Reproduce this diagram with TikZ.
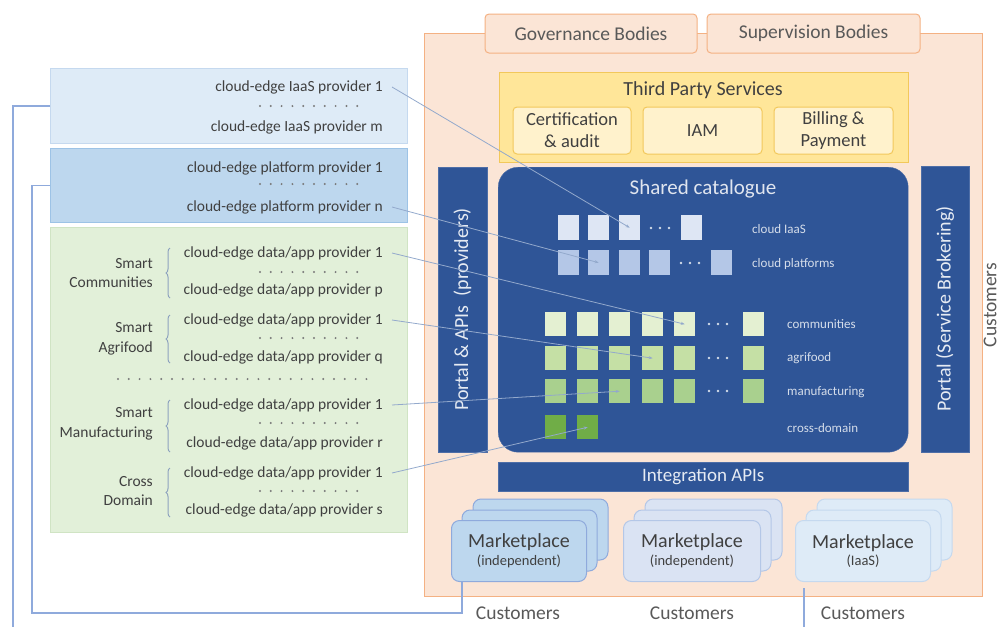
\documentclass[tikz,border=0pt]{standalone}
\usepackage{fontspec}
\setmainfont{Carlito}
\usetikzlibrary{arrows.meta,decorations.pathreplacing}

\definecolor{orgfill}{HTML}{FBE5D6}
\definecolor{orgline}{HTML}{F4B183}
\definecolor{yelfill}{HTML}{FFE699}
\definecolor{yelline}{HTML}{F2C85B}
\definecolor{palefill}{HTML}{FFF2CC}
\definecolor{darkblue}{HTML}{2F5597}
\definecolor{iaasfill}{HTML}{DEEBF7}
\definecolor{iaasline}{HTML}{C5D9EF}
\definecolor{platfill}{HTML}{BDD7EE}
\definecolor{platline}{HTML}{9DC3E6}
\definecolor{grnfill}{HTML}{E2F0D9}
\definecolor{grnline}{HTML}{D0E4C4}
\definecolor{txtdark}{HTML}{404040}
\definecolor{txtmid}{HTML}{595959}
\definecolor{linkblue}{HTML}{8FAADC}
\definecolor{thinline}{HTML}{93A9CC}
\definecolor{bracec}{HTML}{8EA3BF}
\definecolor{sqiaas}{HTML}{DEE6F4}
\definecolor{sqplat}{HTML}{B4C7E7}
\definecolor{sqcomm}{HTML}{E4F0D2}
\definecolor{sqagri}{HTML}{C5E0A5}
\definecolor{sqmanu}{HTML}{A9D08E}
\definecolor{sqcross}{HTML}{70AD47}
\definecolor{mkafill}{HTML}{BDD7EE}
\definecolor{mkaline}{HTML}{8FAADC}
\definecolor{mkbfill}{HTML}{DAE3F3}
\definecolor{mkbline}{HTML}{B4C7E7}
\definecolor{mkcfill}{HTML}{DEEBF7}
\definecolor{mkcline}{HTML}{C5D9EF}

\begin{document}
\begin{tikzpicture}[x=1pt, y=-1pt,
gov/.style={draw=orgline, fill=orgfill, line width=1pt, rounded corners=4, minimum height=39, inner sep=0, text=txtmid, font=\fontsize{19.5}{22}\selectfont},
tpsbox/.style={draw=yelline, fill=palefill, line width=1pt, rounded corners=4, minimum height=47, inner sep=0, align=center, text=txtdark, font=\fontsize{18.5}{22}\selectfont},
bar/.style={draw=darkblue!85!white, fill=darkblue, inner sep=0, text=white!88!darkblue, font=\fontsize{20}{22}\selectfont},
sq/.style={minimum width=21, minimum height=25, inner sep=0, anchor=north west},
catlab/.style={text=white!80!darkblue, font=\fontsize{13}{15}\selectfont, anchor=west, inner sep=0},
lbox/.style={line width=1pt, minimum width=357, anchor=north west, inner sep=0},
ptext/.style={anchor=east, inner sep=0, text=txtdark, font=\fontsize{15.5}{18}\selectfont},
grp/.style={anchor=east, inner sep=0, align=right, text=txtdark, font=\fontsize{15.5}{19.5}\selectfont},
dotrow/.style={draw=txtdark!70, line width=2.2pt, line cap=round, dash pattern=on 0pt off 10.8pt},
brk/.style={draw=bracec, line width=1pt, decorate, decoration={brace, amplitude=4pt}},
mkt/.style={rounded corners=8, line width=1pt, minimum width=135, minimum height=61, inner sep=0, align=center, text=txtdark},
cust/.style={text=txtmid, font=\fontsize{19.5}{22}\selectfont, inner sep=0},
link/.style={draw=linkblue, line width=1.8pt},
feed/.style={draw=thinline, line width=0.8pt, -{Stealth[length=4pt, width=3pt]}},
]
\useasboundingbox (0,0) rectangle (1002,627);

\node[draw=orgline, fill=orgfill, line width=1pt, minimum width=558, minimum height=563, anchor=north west, inner sep=0] (plat) at (424,33) {};
\node[gov, minimum width=212] (gov) at (591,33.5) {Governance Bodies};
\node[gov, minimum width=213] (sup) at (813.5,33.5) {Supervision Bodies};

\node[draw=yelline, fill=yelfill, line width=1pt, minimum width=409, minimum height=90, anchor=north west, inner sep=0] (tps) at (499,72) {};
\node[text=txtdark, font=\fontsize{20}{22}\selectfont] (tpt) at (703,90) {Third Party Services};
\node[tpsbox, minimum width=118] (cert) at (572,130.5) {Certification\\\& audit};
\node[tpsbox, minimum width=119] (iam) at (702.5,130.5) {IAM};
\node[tpsbox, minimum width=119] (bill) at (833.5,130.5) {Billing \&\\Payment};

\node[bar, minimum width=285, minimum height=49, rotate=90] (pap) at (462.5,309.5) {Portal \& APIs\ \ (providers)};
\node[bar, minimum width=286, minimum height=48, rotate=90] (psb) at (945,309) {Portal (Service Brokering)};
\node[bar, rounded corners=20, minimum width=410, minimum height=285, anchor=north west] (cat) at (498,167) {};
\node[text=white!85!darkblue, font=\fontsize{21}{24}\selectfont] (sct) at (703,189) {Shared catalogue};
\node[bar, minimum width=410, minimum height=29, anchor=north west, font=\fontsize{19}{22}\selectfont] (iapi) at (498,462) {Integration APIs};

\foreach \x [count=\i] in {558,588,619,681}
  \node[sq, fill=sqiaas] (ia\i) at (\x,215) {};
\foreach \x [count=\i] in {558,588,619,649,711}
  \node[sq, fill=sqplat] (pl\i) at (\x,250) {};
\foreach \x [count=\i] in {545,577,609,642,674,743}
  \node[sq, fill=sqcomm, minimum height=24] (co\i) at (\x,312) {};
\foreach \x [count=\i] in {545,577,609,642,674,743}
  \node[sq, fill=sqagri, minimum height=24] (ag\i) at (\x,346) {};
\foreach \x [count=\i] in {545,577,609,642,674,743}
  \node[sq, fill=sqmanu, minimum height=24] (ma\i) at (\x,379) {};
\foreach \x [count=\i] in {545,577}
  \node[sq, fill=sqcross, minimum height=24] (cd\i) at (\x,415) {};
\foreach \x in {651,660,669}
  \fill[white!80!darkblue] (\x,228) circle[radius=1.4pt];
\foreach \x in {681,690,699}
  \fill[white!80!darkblue] (\x,263) circle[radius=1.4pt];
\foreach \y in {324,358,391}
  \foreach \x in {709,718,727}
    \fill[white!80!darkblue] (\x,\y) circle[radius=1.4pt];

\node[catlab] (lia) at (752,229) {cloud IaaS};
\node[catlab] (lpl) at (752,264) {cloud platforms};
\node[catlab] (lco) at (787,324) {communities};
\node[catlab] (lag) at (787,358) {agrifood};
\node[catlab] (lma) at (787,392) {manufacturing};
\node[catlab] (lcd) at (787,428) {cross-domain};

\draw[draw=mkaline, fill=mkafill, rounded corners=8, line width=1pt] (473,499) rectangle (608,560);
\draw[draw=mkaline, fill=mkafill, rounded corners=8, line width=1pt] (462,510) rectangle (597,571);
\node[mkt, fill=mkafill, draw=mkaline, anchor=north west] (m1) at (451,520) {\fontsize{20}{22}\selectfont Marketplace\\[3pt]\fontsize{14.5}{18}\selectfont (independent)};
\draw[draw=mkbline, fill=mkbfill, rounded corners=8, line width=1pt] (645,499) rectangle (782,560);
\draw[draw=mkbline, fill=mkbfill, rounded corners=8, line width=1pt] (634,510) rectangle (771,571);
\node[mkt, fill=mkbfill, draw=mkbline, minimum width=137, anchor=north west] (m2) at (623,520) {\fontsize{20}{22}\selectfont Marketplace\\[3pt]\fontsize{14.5}{18}\selectfont (independent)};
\draw[draw=mkcline, fill=mkcfill, rounded corners=8, line width=1pt] (817,499) rectangle (952,560);
\draw[draw=mkcline, fill=mkcfill, rounded corners=8, line width=1pt] (806,510) rectangle (941,571);
\node[mkt, fill=mkcfill, draw=mkcline, anchor=north west] (m3) at (795,520) {\fontsize{20}{22}\selectfont Marketplace\\[3pt]\fontsize{14.5}{18}\selectfont (IaaS)};

\node[cust] (c1) at (518,613) {Customers};
\node[cust] (c2) at (692,613) {Customers};
\node[cust] (c3) at (863,613) {Customers};
\node[cust, rotate=90] (c4) at (990,305) {Customers};

\node[lbox, draw=iaasline, fill=iaasfill, minimum height=75] (iaas) at (50,68) {};
\node[lbox, draw=platline, fill=platfill, minimum height=74] (pfm) at (50,148) {};
\node[lbox, draw=grnline, fill=grnfill, minimum height=305] (grn) at (50,227) {};

\node[ptext] (ip1) at (383,87) {cloud-edge IaaS provider 1};
\node[ptext] (ipm) at (383,127) {cloud-edge IaaS provider m};
\node[ptext] (pp1) at (383,168) {cloud-edge platform provider 1};
\node[ptext] (ppn) at (383,207) {cloud-edge platform provider n};
\node[ptext] (cp1) at (383,253) {cloud-edge data/app provider 1};
\node[ptext] (cpp) at (383,290) {cloud-edge data/app provider p};
\node[ptext] (ap1) at (383,320) {cloud-edge data/app provider 1};
\node[ptext] (apq) at (383,357) {cloud-edge data/app provider q};
\node[ptext] (mp1) at (383,405) {cloud-edge data/app provider 1};
\node[ptext] (mpr) at (383,443) {cloud-edge data/app provider r};
\node[ptext] (dp1) at (383,473) {cloud-edge data/app provider 1};
\node[ptext] (dps) at (383,510) {cloud-edge data/app provider s};

\foreach \y in {106,184,272,338,423,491}
  \draw[dotrow] (260,\y) -- (358,\y);
\draw[dotrow] (118,379) -- (369,379);

\node[grp] (sc) at (153,273) {Smart\\Communities};
\node[grp] (sa) at (153,339) {Smart\\Agrifood};
\node[grp] (sm) at (153,424) {Smart\\Manufacturing};
\node[grp] (xd) at (153,491) {Cross\\Domain};
\draw[brk] (170,298) -- (170,248);
\draw[brk] (170,363) -- (170,315);
\draw[brk] (170,452) -- (170,400);
\draw[brk] (170,517) -- (170,468);

\coordinate (e1) at (13,627);
\coordinate (e2) at (32,613);
\coordinate (e3) at (804,627);
\draw[link] (iaas.west) -| (e1);
\draw[link] (pfm.west) -| (e2) -| ([xshift=11]m1.south west);
\draw[link] ([xshift=9,yshift=-6]m3.south west) -- (e3);

\draw[feed] ([xshift=9]ip1.east) -- (ia3.center);
\draw[feed] ([xshift=9]ppn.east) -- (pl2.center);
\draw[feed] ([xshift=9]cp1.east) -- (co5.center);
\draw[feed] ([xshift=9]ap1.east) -- (ag4.center);
\draw[feed] ([xshift=9]mp1.east) -- (ma3.center);
\draw[feed] ([xshift=9]dp1.east) -- (cd2.center);
\end{tikzpicture}
\end{document}
